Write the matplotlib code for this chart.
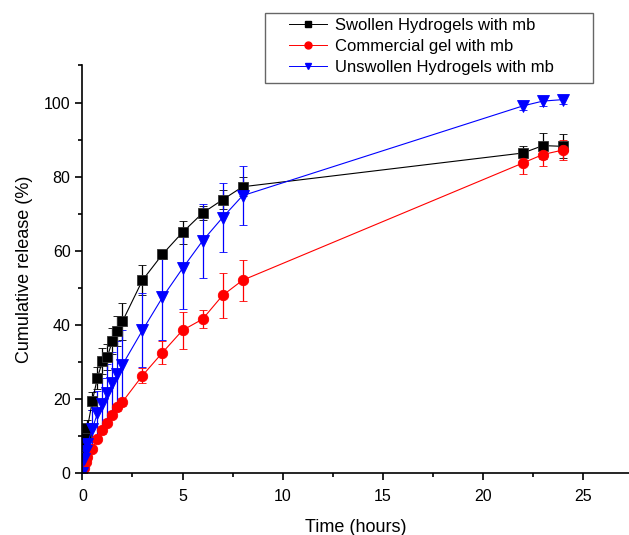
import numpy as np
import matplotlib
matplotlib.use("Agg")
from matplotlib import pyplot as plt
from matplotlib.patches import Rectangle
from matplotlib.ticker import MultipleLocator

plt.rcParams['font.family'] = ['Liberation Sans', 'DejaVu Sans']

# sampling times (hours)
time_h = [0, 0.083, 0.167, 0.25, 0.5, 0.75, 1, 1.25, 1.5, 1.75, 2, 3, 4, 5, 6, 7, 8, 22, 23, 24]

# cumulative release (%) and error bars
swollen = [0, 8.5, 10.5, 12.3, 19.6, 25.8, 30.2, 31.5, 35.8, 38.5, 41.0, 52.1, 59.1, 65.0, 70.2, 73.8, 77.3, 86.4, 88.4, 88.2]
swollen_err = [0, 1.0, 1.5, 2.0, 2.5, 3.0, 3.5, 3.5, 3.5, 4.0, 5.0, 4.0, 1.2, 3.0, 1.8, 2.5, 2.5, 1.8, 3.5, 3.2]

commercial = [0, 1.5, 3.0, 4.5, 6.7, 9.2, 11.7, 13.7, 15.9, 17.8, 19.3, 26.4, 32.6, 38.6, 41.6, 48.0, 52.1, 83.7, 86.0, 87.2]
commercial_err = [0, 0.3, 0.5, 0.6, 0.8, 0.8, 1.0, 1.0, 1.0, 1.0, 1.0, 2.0, 3.0, 5.0, 2.5, 6.0, 5.5, 3.0, 3.0, 2.7]

unswollen = [0, 4.0, 6.0, 8.0, 12.1, 16.2, 18.7, 21.6, 24.3, 26.7, 29.3, 38.6, 47.5, 55.3, 62.7, 69.0, 74.9, 99.1, 100.4, 100.8]
unswollen_err = [0, 2.0, 3.0, 4.0, 5.0, 6.0, 7.0, 8.0, 8.5, 9.0, 9.5, 10.0, 11.4, 11.0, 10.0, 9.3, 8.0, 1.2, 1.2, 1.2]

labels = ["Swollen Hydrogels with mb", "Commercial gel with mb", "Unswollen Hydrogels with mb"]

fig = plt.figure(figsize=(6.29, 5.35), dpi=100)
ax = fig.add_axes([0.131, 0.115, 0.869, 0.7626])

styles = [
    (swollen, swollen_err, "black", "s", 6.5),
    (commercial, commercial_err, "red", "o", 7.5),
    (unswollen, unswollen_err, "blue", "v", 8.0),
]
for (vals, errs, color, marker, ms), lab in zip(styles, labels):
    ax.errorbar(time_h, vals, yerr=errs, color=color, marker=marker, markersize=ms,
                linewidth=0.8, elinewidth=0.9, capsize=3, capthick=0.9,
                markeredgecolor=color if color != "black" else "#333333",
                markeredgewidth=0.6, label=lab)

ax.set_xlim(0, 27.3)
ax.set_ylim(0, 110)
ax.xaxis.set_major_locator(MultipleLocator(5))
ax.xaxis.set_minor_locator(MultipleLocator(2.5))
ax.yaxis.set_major_locator(MultipleLocator(20))
ax.yaxis.set_minor_locator(MultipleLocator(10))
for s in ["top", "right"]:
    ax.spines[s].set_visible(False)
for s in ["left", "bottom"]:
    ax.spines[s].set_linewidth(1.2)
ax.tick_params(which="major", direction="out", length=5, width=1.2, labelsize=11.5)
ax.tick_params(axis="x", which="major", pad=6)
ax.tick_params(which="minor", direction="out", length=3, width=1.2)
ax.set_xlabel("Time (hours)", fontsize=13, labelpad=11)
ax.set_ylabel("Cumulative release (%)", fontsize=13, labelpad=8)

# legend sits above the axes, with a plain rectangular frame
leg_handles = [plt.Line2D([], [], color=c, marker=m, markersize=5, linewidth=0.7)
               for c, m in [("black", "s"), ("red", "o"), ("blue", "v")]]
fig.legend(leg_handles, labels, loc="upper left", bbox_to_anchor=(0.4595, 0.966),
           fontsize=12, frameon=False, handlelength=2.3, borderpad=0,
           labelspacing=0.35, handletextpad=0.45, borderaxespad=0)
fig.patches.append(Rectangle((0.4213, 0.8443), 0.5215, 0.132, transform=fig.transFigure,
                             fill=False, edgecolor="#666666", linewidth=1.0))

fig.savefig("out.png", dpi=100)
